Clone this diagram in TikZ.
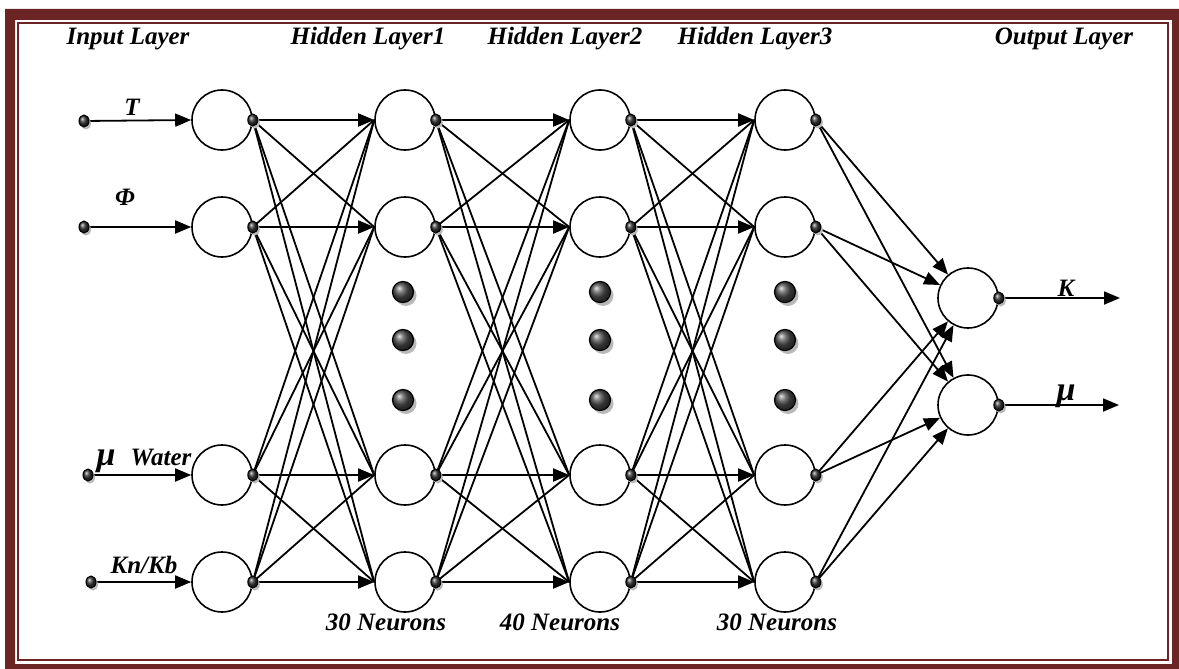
\documentclass[tikz,border=0pt]{standalone}
\usepackage{fontspec}
\setmainfont{Liberation Serif}
\usetikzlibrary{arrows.meta,shadings}

\definecolor{framered}{RGB}{108,37,37}

\begin{document}
\begin{tikzpicture}[x=1pt,y=-1pt,
  neuron/.style={circle,draw,line width=1.6pt,minimum size=60pt,inner sep=0pt},
  link/.style={line width=1.8pt},
  arr/.style={link,-{Triangle[length=16pt,width=13pt]}},
  lbl/.style={font=\fontsize{25}{28}\selectfont\bfseries\itshape,inner sep=0pt,anchor=base},
  greek/.style={font=\fontsize{34}{36}\selectfont\bfseries\itshape,inner sep=0pt,anchor=base},
  joint/.pic={
    \fill[gray!55] (2,2.5) ellipse (5 and 6);
    \shade[ball color=gray!40!black,draw=black,line width=1pt] (0,0) ellipse (5 and 6);
  },
  bigdot/.pic={
    \fill[gray!55] (3,3.5) circle (10.5);
    \shade[ball color=black!70,draw=black,line width=1.2pt] (0,0) circle (10.5);
  },
]
\useasboundingbox (0,0) rectangle (1179,669);

% double frame
\begin{scope}
  \clip (0,0) rectangle (1179,669);
  \fill[framered,even odd rule] (5,9) rectangle (1190,680) (15,20) rectangle (1172,664);
  \draw[framered,line width=2pt] (18,23) rectangle (1168,660);
\end{scope}

% neurons
\foreach \r [count=\i] in {120,227,475,582} {
  \node[neuron] (in\i) at (222,\r) {};
  \node[neuron] (ha\i) at (405,\r) {};
  \node[neuron] (hb\i) at (600,\r) {};
  \node[neuron] (hc\i) at (785,\r) {};
}
\node[neuron] (o1) at (968,298) {};
\node[neuron] (o2) at (968,405) {};

% input sources and output ends
\coordinate (s1) at (84,121);
\coordinate (s2) at (84,227);
\coordinate (s3) at (88,475);
\coordinate (s4) at (91,582);
\coordinate (e1) at (1120,298);
\coordinate (e2) at (1119,405);

% connections
\foreach \i in {1,...,4} \draw[arr] (s\i) -- (in\i.west);
\foreach \a/\b in {in/ha,ha/hb,hb/hc} {
  \foreach \i in {1,...,4} {
    \foreach \j in {1,...,4} {
      \ifnum\i=\j
        \draw[arr] (\a\i.east) -- (\b\j.west);
      \else
        \draw[link] (\a\i.east) -- (\b\j.west);
      \fi
    }
  }
}
\foreach \i in {1,...,4} \foreach \j in {1,2} \draw[arr] (hc\i.east) -- (o\j);
\draw[arr] (o1.east) -- (e1);
\draw[arr] (o2.east) -- (e2);

% joints
\foreach \n in {in,ha,hb,hc} \foreach \i in {1,...,4} \pic at (\n\i.east) {joint};
\pic at (o1.east) {joint};
\pic at (o2.east) {joint};
\foreach \i in {1,...,4} \pic at (s\i) {joint};

% ellipsis dots
\foreach \x in {403,600,785} \foreach \y in {292,340,400} \pic at (\x,\y) {bigdot};

% layer titles
\node[lbl] (tin) at (128,45) {Input Layer};
\node[lbl] (th1) at (368,45) {Hidden Layer1};
\node[lbl] (th2) at (565,45) {Hidden Layer2};
\node[lbl] (th3) at (755,45) {Hidden Layer3};
\node[lbl] (tout) at (1064,45) {Output Layer};

% input labels
\node[lbl] (lT) at (132,115) {T};
\node[lbl] (lPhi) at (125,205) {Φ};
\node[greek] (lMu) at (106,465) {μ};
\node[lbl] (lW) at (161,465) {Water};
\node[lbl] (lK) at (144,573) {Kn/Kb};

% output labels
\node[lbl] (oK) at (1066,296) {K};
\node[greek] (oMu) at (1066,400) {μ};

% layer sizes
\node[lbl] (n1) at (386,630) {30 Neurons};
\node[lbl] (n2) at (560,630) {40 Neurons};
\node[lbl] (n3) at (777,630) {30 Neurons};
\end{tikzpicture}
\end{document}
